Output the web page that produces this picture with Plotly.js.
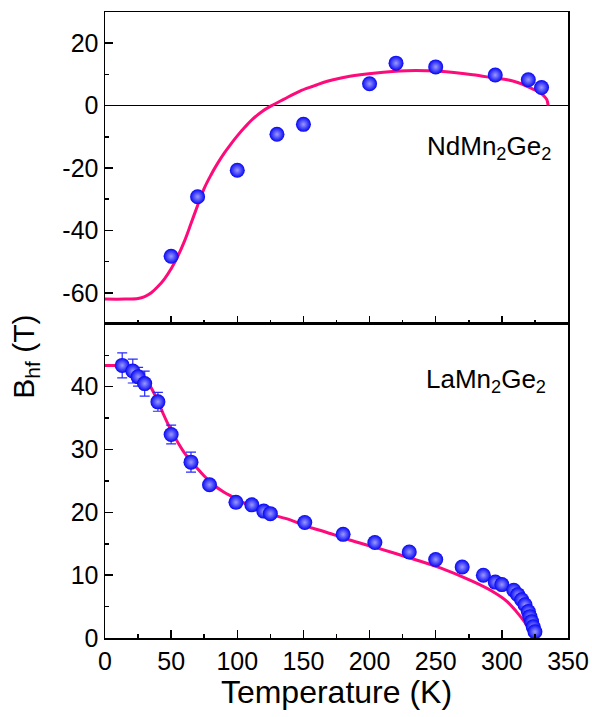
<!DOCTYPE html>
<html>
<head>
<meta charset="utf-8">
<script src="https://cdn.plot.ly/plotly-3.0.1.min.js"></script>
<style>html,body{margin:0;padding:0;background:#fff;}#chart{width:592px;height:717px;}</style>
</head>
<body>
<div id="chart"></div>
<script>
// NdMn2Ge2 (top panel) data
const ndT = [50, 70, 100, 130, 150, 200, 220, 250, 295, 320, 330];
const ndB = [-48.3, -29.2, -20.7, -9.2, -6.0, 7.0, 13.6, 12.4, 9.8, 8.3, 5.8];
// NdMn2Ge2 fit curve
const ndFitT = [0, 15, 25, 30, 35, 40, 45, 50, 55, 60, 65, 70, 75, 80, 85, 90, 95, 100, 106, 112, 119, 126, 135, 147, 158, 168, 185, 203, 228, 253, 278, 295, 304, 312, 319, 324, 329, 332, 334, 335];
const ndFitB = [-62, -62, -61.8, -61.2, -60, -58, -55.5, -52.3, -48.3, -43.5, -37.8, -32, -26.5, -22.3, -18.6, -15.3, -12.4, -9.7, -6.8, -4.2, -1.8, 0, 2, 4.6, 6.3, 7.8, 9.4, 10.4, 11.2, 11, 9.9, 8.8, 8.3, 7.4, 6.2, 5.2, 4.1, 3.0, 1.9, 0];

// LaMn2Ge2 (bottom panel) data
const laT = [13, 21, 25, 30, 40, 50, 65, 79, 99, 111, 120, 125, 151, 180, 204, 230, 250, 270, 286, 295, 300, 309, 312, 315, 317.5, 320, 321.2, 322.5, 323.7, 325];
const laB = [43.4, 42.5, 41.6, 40.5, 37.6, 32.4, 28.0, 24.4, 21.6, 21.2, 20.2, 19.8, 18.4, 16.5, 15.2, 13.7, 12.5, 11.3, 10.0, 8.9, 8.5, 7.6, 6.9, 6.1, 5.3, 4.2, 3.4, 2.6, 1.8, 1.0];
const laErr = [2.0, 1.9, 1.5, 2.0, 1.5, 1.5, 1.6, 0, 0, 0, 0, 0, 0, 0, 0, 0, 0, 0, 0, 0, 0, 0, 0, 0, 0, 0, 0, 0, 0, 0];
// LaMn2Ge2 fit curve
const laFitT = [0, 10, 16, 21, 25, 29, 33, 37, 41, 44, 48, 52, 56, 59, 64, 69, 75, 82, 90, 97, 105, 112, 120, 130, 140, 152, 165, 185, 203, 228, 253, 278, 293, 304, 311, 317, 321, 323, 323.5];
const laFitB = [43.4, 43.4, 43.4, 43.1, 42.5, 41.6, 40.5, 39.0, 37.2, 35.7, 33.9, 32.3, 30.8, 29.8, 28.4, 27.2, 25.8, 24.4, 23.2, 22.4, 21.5, 20.8, 20.2, 19.4, 18.8, 17.8, 17.0, 15.6, 14.5, 12.9, 11.2, 9.0, 7.4, 5.8, 4.2, 2.6, 1.3, 0.4, 0];

// tick labels
const xTicks = [0, 50, 100, 150, 200, 250, 300, 350];
const yTopTicks = [-60, -40, -20, 0, 20];
const yTopText = ['-60', '-40', '-20', '0', '20'];
const yBotTicks = [0, 10, 20, 30, 40];

const fitColor = '#ff0a7a';
const markerStyle = {size: 15, color: '#0505f5', gradient: {type: 'radial', color: '#9a9aff'}, line: {width: 0}};
const FONT = 'Liberation Sans, Arial, sans-serif';

const traces = [
  {x: ndFitT, y: ndFitB, xaxis: 'x2', yaxis: 'y2', mode: 'lines', line: {color: fitColor, width: 3, shape: 'spline'}, hoverinfo: 'skip'},
  {x: ndT, y: ndB, xaxis: 'x2', yaxis: 'y2', mode: 'markers', marker: markerStyle},
  {x: laFitT, y: laFitB, xaxis: 'x', yaxis: 'y', mode: 'lines', line: {color: fitColor, width: 3, shape: 'spline'}, hoverinfo: 'skip'},
  {x: laT, y: laB, xaxis: 'x', yaxis: 'y', mode: 'markers', marker: markerStyle,
   error_y: {type: 'data', array: laErr, visible: true, color: '#2a2aff', thickness: 1.2, width: 5}}
];

const axLine = {showline: true, linecolor: '#000', linewidth: 1.5, mirror: true, showgrid: false, ticks: 'inside', ticklen: 8, tickwidth: 1.5, tickcolor: '#000'};
const tickFont = {family: FONT, size: 25, color: '#000'};

const layout = {
  width: 592, height: 717,
  margin: {l: 105, r: 24, t: 12, b: 79},
  paper_bgcolor: '#fff', plot_bgcolor: '#fff',
  showlegend: false,
  font: {family: FONT, color: '#000'},
  xaxis: Object.assign({}, axLine, {
    domain: [0, 1], anchor: 'y', range: [0, 350], tickmode: 'array', tickvals: xTicks,
    minor: {ticks: 'inside', ticklen: 4, tickwidth: 1.5, dtick: 25, tick0: 0, tickcolor: '#000', showgrid: false},
    zeroline: false, tickfont: tickFont,
    title: {text: 'Temperature (K)', font: {size: 32, family: FONT}, standoff: 4}
  }),
  yaxis: Object.assign({}, axLine, {
    domain: [0, 0.5016], anchor: 'x', range: [0, 49.99], tickmode: 'array', tickvals: yBotTicks,
    minor: {ticks: 'inside', ticklen: 4, tickwidth: 1.5, dtick: 5, tick0: 0, tickcolor: '#000', showgrid: false},
    zeroline: false, tickfont: tickFont
  }),
  xaxis2: Object.assign({}, axLine, {
    domain: [0, 1], anchor: 'y2', range: [0, 350], tickmode: 'array', tickvals: xTicks,
    minor: {ticks: 'inside', ticklen: 4, tickwidth: 1.5, dtick: 25, tick0: 0, tickcolor: '#000', showgrid: false},
    showticklabels: false, zeroline: false
  }),
  yaxis2: Object.assign({}, axLine, {
    domain: [0.5016, 1], anchor: 'x2', range: [-69.99, 30], tickmode: 'array', tickvals: yTopTicks, ticktext: yTopText,
    minor: {ticks: 'inside', ticklen: 4, tickwidth: 1.5, dtick: 10, tick0: 0, tickcolor: '#000', showgrid: false},
    zeroline: true, zerolinecolor: '#000', zerolinewidth: 1.5, tickfont: tickFont
  }),
  annotations: [
    {xref: 'paper', yref: 'paper', x: 0.9676, y: 0.783, xanchor: 'right', yanchor: 'middle', showarrow: false,
     text: 'NdMn<sub>2</sub>Ge<sub>2</sub>', font: {size: 26, color: '#000'}},
    {xref: 'paper', yref: 'paper', x: 0.957, y: 0.412, xanchor: 'right', yanchor: 'middle', showarrow: false,
     text: 'LaMn<sub>2</sub>Ge<sub>2</sub>', font: {size: 26, color: '#000'}},
    {xref: 'paper', yref: 'paper', x: -0.172, y: 0.45, xanchor: 'center', yanchor: 'middle', showarrow: false, textangle: -90,
     text: 'B<sub>hf</sub> (T)', font: {size: 30, color: '#000'}}
  ]
};

Plotly.newPlot('chart', traces, layout, {displayModeBar: false, staticPlot: true});
</script>
</body>
</html>
